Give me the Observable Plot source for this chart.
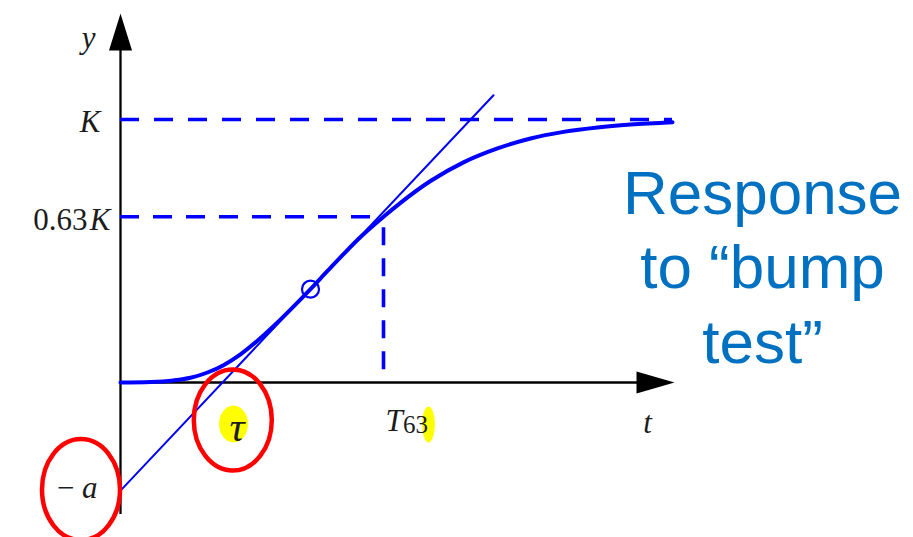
<!DOCTYPE html>
<html>
<head>
<meta charset="utf-8">
<script src="https://cdn.jsdelivr.net/npm/d3@7"></script>
<script src="https://cdn.jsdelivr.net/npm/@observablehq/plot@0.6"></script>
<style>
  html, body { margin: 0; padding: 0; background: #fff; }
  svg { display: block; }
</style>
</head>
<body>
<div id="chart"></div>
<script>
// Step ("bump test") response, normalised so the final value K = 1
const responseT = [0, 0.30, 0.53, 0.70, 0.87, 1.03, 1.20, 1.37, 1.53, 1.70, 1.90, 2.07, 2.23, 2.40, 2.63, 2.80, 3.10, 3.43, 3.77, 4.10, 4.43, 4.77, 5.10, 5.52];
const responseY = [0, 0.002, 0.008, 0.018, 0.038, 0.066, 0.107, 0.159, 0.214, 0.277, 0.355, 0.424, 0.488, 0.553, 0.630, 0.683, 0.766, 0.837, 0.890, 0.928, 0.953, 0.970, 0.981, 0.990];

// Tangent through the inflection point
const tangentT = [0, 3.73];
const tangentY = [-0.411, 1.092];
const inflectionT = [1.90];
const inflectionY = [0.355];

// Characteristic values
const K = 1;
const K63 = 0.63;
const a = 0.411;
const tau = 1.02;
const T63 = 2.63;

// Axis extents
const xAxisEnd = 5.54;
const yAxisTop = 1.403;
const yAxisBottom = -0.502;

const title = ["Response", "to \u201cbump", "test\u201d"];

const response = responseT.map((t, i) => ({t, y: responseY[i]}));
const tangent = tangentT.map((t, i) => ({t, y: tangentY[i]}));
const inflection = inflectionT.map((t, i) => ({t, y: inflectionY[i]}));

// Custom dot symbols: ellipses and filled arrowheads
function ellipseSymbol(rx, ry) {
  const k = 0.5523;
  return {
    draw(c) {
      c.moveTo(rx, 0);
      c.bezierCurveTo(rx, ry * k, rx * k, ry, 0, ry);
      c.bezierCurveTo(-rx * k, ry, -rx, ry * k, -rx, 0);
      c.bezierCurveTo(-rx, -ry * k, -rx * k, -ry, 0, -ry);
      c.bezierCurveTo(rx * k, -ry, rx, -ry * k, rx, 0);
      c.closePath();
    }
  };
}
const arrowUp = {draw(c) { c.moveTo(0, 0); c.lineTo(11.5, 37); c.lineTo(-11.5, 37); c.closePath(); }};
const arrowRight = {draw(c) { c.moveTo(0, 0); c.lineTo(-38, 11); c.lineTo(-38, -11); c.closePath(); }};

const serif = "'Liberation Serif', 'Times New Roman', serif";
const ink = "#1c1c1c";
const blue = "#0000ff";
const red = "#ff0000";
const highlight = "#ffff00";
const fs = 31;

const italic = {fontFamily: serif, fontStyle: "italic", fontSize: fs, fill: ink, lineAnchor: "bottom"};
const upright = {fontFamily: serif, fontSize: fs, fill: ink, lineAnchor: "bottom"};

const chart = Plot.plot({
  width: 913,
  height: 537,
  margin: 0,
  style: {background: "#fff", overflow: "visible"},
  x: {type: "linear", domain: [-1.2, 7.93], range: [0, 913], axis: null},
  y: {type: "linear", domain: [-0.58935, 1.45247], range: [537, 0], axis: null},
  marks: [
    // highlighter strokes behind labels
    Plot.dot([tau], {x: d => d, y: 0, dx: 11, dy: 41.5, r: 1, symbol: ellipseSymbol(14.5, 18.5), fill: highlight, stroke: "none"}),
    Plot.dot([T63], {x: d => d, y: 0, dx: 45, dy: 42, r: 1, symbol: ellipseSymbol(6.3, 18), fill: highlight, stroke: "none"}),

    // axes with arrowheads
    Plot.ruleY([0], {x1: 0, x2: xAxisEnd - 0.3, stroke: "#000", strokeWidth: 2.3}),
    Plot.ruleX([0], {y1: yAxisBottom, y2: yAxisTop - 0.12, stroke: "#000", strokeWidth: 2.3}),
    Plot.dot([0], {x: xAxisEnd, y: 0, r: 1, symbol: arrowRight, fill: "#000", stroke: "none"}),
    Plot.dot([0], {x: 0, y: yAxisTop, r: 1, symbol: arrowUp, fill: "#000", stroke: "none"}),

    // dashed guides for K and 0.63K
    Plot.ruleY([K], {x1: 0, x2: 5.52, stroke: blue, strokeWidth: 3.6, strokeDasharray: "19,15"}),
    Plot.ruleY([K63], {x1: 0, x2: T63, stroke: blue, strokeWidth: 3.6, strokeDasharray: "19,14"}),
    Plot.ruleX([T63], {y1: K63, y2: 0, stroke: blue, strokeWidth: 3.6, strokeDasharray: "18,13", strokeDashoffset: 20}),

    // tangent line and response curve
    Plot.line(tangent, {x: "t", y: "y", stroke: blue, strokeWidth: 2}),
    Plot.line(response, {x: "t", y: "y", stroke: blue, strokeWidth: 4, curve: "monotone-x"}),
    Plot.dot(inflection, {x: "t", y: "y", r: 8.5, stroke: blue, strokeWidth: 2.2, fill: "none"}),

    // axis and value labels
    Plot.text(["y"], {x: 0, y: yAxisTop, text: d => d, dx: -32, dy: 34, textAnchor: "middle", ...italic}),
    Plot.text(["t"], {x: xAxisEnd, y: 0, text: d => d, dx: -27, dy: 50, textAnchor: "middle", ...italic}),
    Plot.text(["K"], {x: 0, y: K, text: d => d, dx: -20, dy: 12.5, textAnchor: "end", ...italic}),
    Plot.text(["K"], {x: 0, y: K63, text: d => d, dx: -10, dy: 13, textAnchor: "end", ...italic}),
    Plot.text(["0.63"], {x: 0, y: K63, text: d => d, dx: -33, dy: 13, textAnchor: "end", ...upright}),
    Plot.text(["\u2212\u2009a"], {x: 0, y: -a, text: d => d, dx: -23, dy: 7, textAnchor: "end", ...italic}),
    Plot.text(["\u03c4"], {x: tau, y: 0, text: d => d, dx: 14.5, dy: 58, textAnchor: "middle", ...italic, fontSize: 42}),
    Plot.text(["T"], {x: T63, y: 0, text: d => d, dx: 2, dy: 48, textAnchor: "start", ...italic}),
    Plot.text(["63"], {x: T63, y: 0, text: d => d, dx: 19.5, dy: 50.5, textAnchor: "start", ...upright, fontSize: 25}),

    // red circles around τ and −a
    Plot.dot([tau], {x: d => d, y: 0, dx: 10.3, dy: 37.5, r: 1, symbol: ellipseSymbol(39, 50.5), fill: "none", stroke: red, strokeWidth: 4.5}),
    Plot.dot([-a], {x: 0, y: d => d, dx: -39.5, dy: -1, r: 1, symbol: ellipseSymbol(39, 50.5), fill: "none", stroke: red, strokeWidth: 4.5}),

    // caption
    Plot.text([title.join("\n")], {
      frameAnchor: "top-left", dx: 762, dy: 362,
      text: d => d, textAnchor: "middle", lineAnchor: "bottom", lineHeight: 1.2,
      fontFamily: "'Liberation Sans', Arial, sans-serif", fontSize: 62, fill: "#0070c0"
    })
  ]
});

document.getElementById("chart").appendChild(chart);
</script>
</body>
</html>
